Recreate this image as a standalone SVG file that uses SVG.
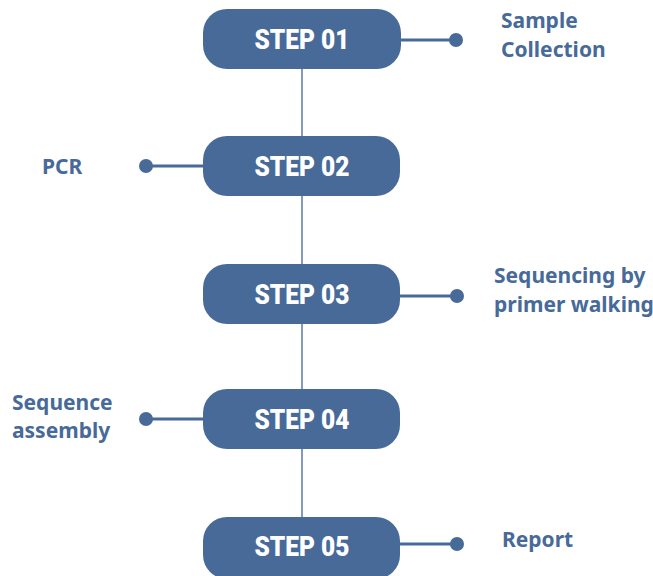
<svg xmlns="http://www.w3.org/2000/svg" width="653" height="576" viewBox="0 0 653 576">
<style>
.box{fill:#476a99;}
.st{font-family:Roboto,"Liberation Sans",sans-serif;font-weight:900;font-size:27px;fill:#ffffff;text-anchor:middle;}
.lb{font-family:"Noto Sans","Open Sans",sans-serif;font-weight:bold;font-size:21px;fill:#476a99;}
.ln{stroke:#476a99;stroke-width:3;fill:none;}
.vl{stroke:#5a7aa5;stroke-width:1.5;fill:none;}
.dot{fill:#476a99;}
</style>
<g id="connectors">
<line class="vl" x1="302" y1="69" x2="302" y2="517"/>
<line class="ln" x1="400" y1="40" x2="456" y2="40"/>
<circle class="dot" cx="456" cy="40" r="7"/>
<line class="ln" x1="146" y1="166" x2="204" y2="166"/>
<circle class="dot" cx="146" cy="166" r="7"/>
<line class="ln" x1="400" y1="296" x2="457" y2="296"/>
<circle class="dot" cx="457" cy="296" r="7"/>
<line class="ln" x1="146" y1="419" x2="204" y2="419"/>
<circle class="dot" cx="146" cy="419" r="7"/>
<line class="ln" x1="400" y1="544" x2="457" y2="544"/>
<circle class="dot" cx="457" cy="544" r="7"/>
</g>
<g id="step01">
<rect class="box" x="203" y="9" width="198" height="60" rx="24"/>
<text class="st" x="302" y="49" textLength="95" lengthAdjust="spacingAndGlyphs">STEP 01</text>
</g>
<g id="step02">
<rect class="box" x="203" y="136" width="197" height="60" rx="24"/>
<text class="st" x="302" y="176" textLength="95" lengthAdjust="spacingAndGlyphs">STEP 02</text>
</g>
<g id="step03">
<rect class="box" x="203" y="264" width="197" height="60" rx="24"/>
<text class="st" x="302" y="304" textLength="95" lengthAdjust="spacingAndGlyphs">STEP 03</text>
</g>
<g id="step04">
<rect class="box" x="203" y="389" width="197" height="60" rx="24"/>
<text class="st" x="302" y="429" textLength="95" lengthAdjust="spacingAndGlyphs">STEP 04</text>
</g>
<g id="step05">
<rect class="box" x="203" y="517" width="197" height="62" rx="24"/>
<text class="st" x="302" y="556" textLength="95" lengthAdjust="spacingAndGlyphs">STEP 05</text>
</g>
<g id="label01">
<text class="lb" x="501" y="28">Sample</text>
<text class="lb" x="501" y="57">Collection</text>
</g>
<g id="label02">
<text class="lb" x="42" y="174">PCR</text>
</g>
<g id="label03">
<text class="lb" x="494" y="283">Sequencing by</text>
<text class="lb" x="494" y="312">primer walking</text>
</g>
<g id="label04">
<text class="lb" x="12" y="410">Sequence</text>
<text class="lb" x="12" y="438">assembly</text>
</g>
<g id="label05">
<text class="lb" x="502" y="547">Report</text>
</g>
</svg>
